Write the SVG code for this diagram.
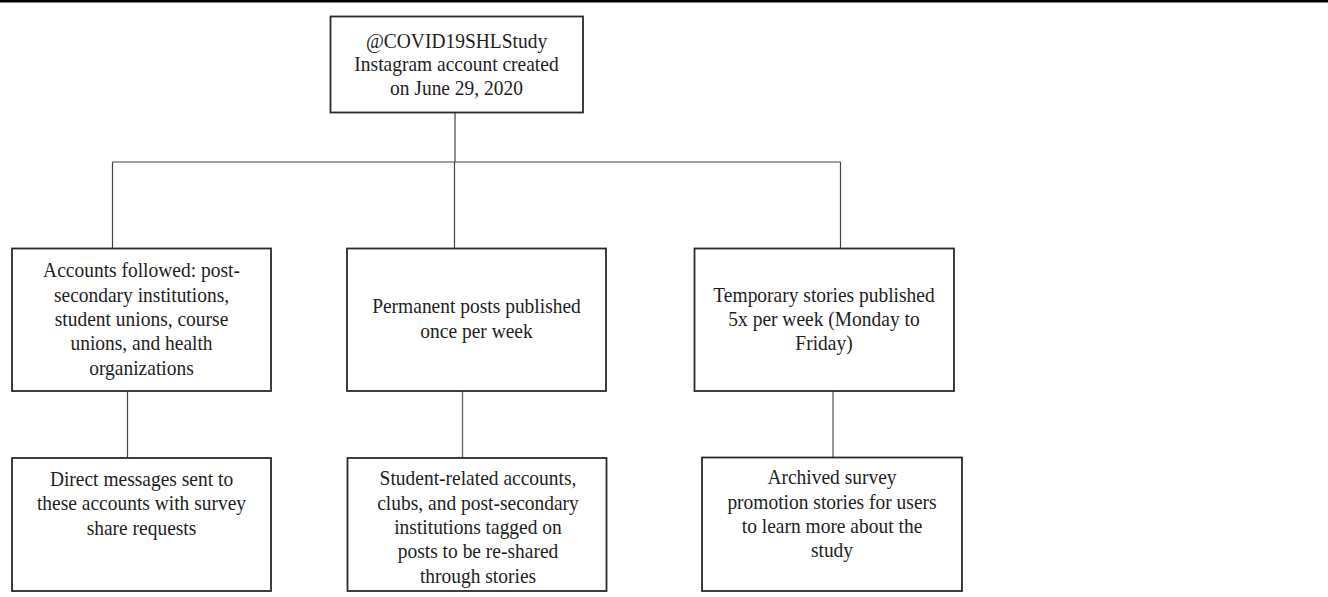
<svg xmlns="http://www.w3.org/2000/svg" width="1328" height="597" viewBox="0 0 1328 597">
<style>
.box{fill:#fff;stroke:#2a2a2a;stroke-width:1.8}
.t{font-family:"Liberation Serif","Times New Roman",serif;font-size:20.5px;fill:#1e1e1e;text-anchor:middle}
.c{stroke:#444;stroke-width:1.2;fill:none}
.c2{stroke:#6a6a6a;stroke-width:1.4;fill:none}
</style>
<rect x="0" y="0" width="1328" height="597" fill="#fff"/>
<rect x="0" y="0" width="1328" height="2.5" fill="#000"/>
<g id="connectors">
<line class="c" x1="455" y1="112" x2="455" y2="162"/>
<line class="c" x1="112.5" y1="162" x2="840.5" y2="162"/>
<line class="c" x1="112.5" y1="162" x2="112.5" y2="248"/>
<line class="c" x1="454.5" y1="162" x2="454.5" y2="248"/>
<line class="c" x1="840.5" y1="162" x2="840.5" y2="248"/>
<line class="c" x1="127.5" y1="391" x2="127.5" y2="458"/>
<line class="c2" x1="462.5" y1="391" x2="462.5" y2="458"/>
<line class="c2" x1="833" y1="391" x2="833" y2="457"/>
</g>
<g id="n-top">
<rect class="box" x="330.5" y="16.5" width="252.5" height="96"/>
<g transform="translate(456.5 0) scale(0.95 1)">
<text class="t" x="0" y="48">@COVID19SHLStudy</text>
<text class="t" x="0" y="71.5">Instagram account created</text>
<text class="t" x="0" y="95">on June 29, 2020</text>
</g>
</g>
<g id="n-accounts">
<rect class="box" x="12" y="248.5" width="259" height="142.5"/>
<g transform="translate(141.5 0) scale(0.95 1)">
<text class="t" x="0" y="277.3">Accounts followed: post-</text>
<text class="t" x="0" y="301.7">secondary institutions,</text>
<text class="t" x="0" y="326.1">student unions, course</text>
<text class="t" x="0" y="350.5">unions, and health</text>
<text class="t" x="0" y="374.9">organizations</text>
</g>
</g>
<g id="n-posts">
<rect class="box" x="347" y="248.5" width="259" height="142.5"/>
<g transform="translate(476.5 0) scale(0.95 1)">
<text class="t" x="0" y="313.5">Permanent posts published</text>
<text class="t" x="0" y="338">once per week</text>
</g>
</g>
<g id="n-stories">
<rect class="box" x="694.5" y="248.5" width="259.5" height="142.5"/>
<g transform="translate(824 0) scale(0.95 1)">
<text class="t" x="0" y="301.7">Temporary stories published</text>
<text class="t" x="0" y="326.1">5x per week (Monday to</text>
<text class="t" x="0" y="350.5">Friday)</text>
</g>
</g>
<g id="n-dm">
<rect class="box" x="12" y="458" width="259" height="133"/>
<g transform="translate(141.5 0) scale(0.95 1)">
<text class="t" x="0" y="485.8">Direct messages sent to</text>
<text class="t" x="0" y="510.2">these accounts with survey</text>
<text class="t" x="0" y="534.6">share requests</text>
</g>
</g>
<g id="n-tagged">
<rect class="box" x="347.5" y="458" width="259" height="133"/>
<g transform="translate(478 0) scale(0.95 1)">
<text class="t" x="0" y="485.3">Student-related accounts,</text>
<text class="t" x="0" y="509.7">clubs, and post-secondary</text>
<text class="t" x="0" y="534.1">institutions tagged on</text>
<text class="t" x="0" y="558.5">posts to be re-shared</text>
<text class="t" x="0" y="582.9">through stories</text>
</g>
</g>
<g id="n-archived">
<rect class="box" x="702" y="457.5" width="260" height="133.5"/>
<g transform="translate(832 0) scale(0.95 1)">
<text class="t" x="0" y="484.3">Archived survey</text>
<text class="t" x="0" y="508.6">promotion stories for users</text>
<text class="t" x="0" y="532.9">to learn more about the</text>
<text class="t" x="0" y="557.2">study</text>
</g>
</g>
</svg>
